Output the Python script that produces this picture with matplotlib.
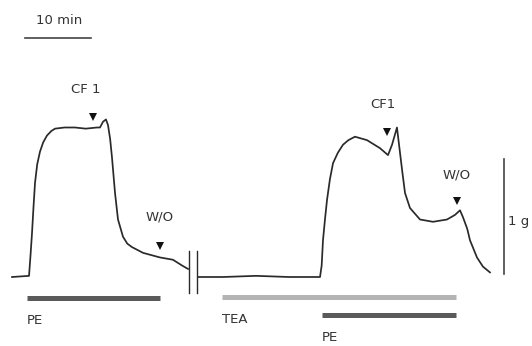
import matplotlib
matplotlib.use('Agg')
import matplotlib.pyplot as plt
from matplotlib import font_manager

# trace before the break (time in min, tension in g)
trace1_t = [-1.97, 0.61, 0.85, 1.06, 1.30, 1.52, 1.85, 2.27, 2.75, 3.33, 4.0, 4.55, 6.0,
            7.58, 9.2, 10.91, 11.36, 11.82, 12.27, 12.58, 12.9, 13.18, 13.64, 14.09, 14.85,
            15.5, 16.21, 17.88, 20.45, 22.42, 23.79, 24.70]
trace1_g = [0.0, 0.01, 0.2, 0.38, 0.62, 0.82, 0.98, 1.09, 1.17, 1.23, 1.27, 1.29, 1.30,
            1.30, 1.29, 1.30, 1.30, 1.35, 1.37, 1.32, 1.2, 1.04, 0.73, 0.50, 0.35,
            0.29, 0.26, 0.21, 0.17, 0.15, 0.10, 0.07]

# trace after the break
trace2_t = [26.21, 30.0, 35.0, 40.0, 44.70, 44.95, 45.15, 45.45, 45.76, 46.2, 46.67, 47.4,
            48.18, 49.0, 50.0, 51.82, 53.79, 55.0, 55.61, 56.36, 56.82, 57.2, 57.58,
            58.33, 59.85, 61.82, 63.94, 65.15, 65.91, 66.36, 67.0, 67.42, 68.48, 69.39, 70.45]
trace2_g = [0.0, 0.0, 0.01, 0.0, 0.0, 0.1, 0.32, 0.5, 0.67, 0.85, 0.99, 1.08,
            1.15, 1.19, 1.22, 1.19, 1.12, 1.06, 1.15, 1.30, 1.08, 0.9, 0.73,
            0.60, 0.50, 0.48, 0.50, 0.54, 0.58, 0.52, 0.42, 0.32, 0.17, 0.09, 0.04]

# drug application events (label, start, end)
bar_labels = ['PE', 'TEA', 'PE']
bar_start = [0.3, 29.85, 45.0]
bar_end = [20.45, 65.3, 65.3]

# arrow markers (label, time, tension of arrow)
mark_labels = ['CF 1', 'W/O', 'CF1', 'W/O']
mark_t = [10.3, 20.45, 54.85, 65.45]
mark_g = [1.39, 0.27, 1.26, 0.66]

TRACE_COLOR = '#2a2a2a'
names = {f.name for f in font_manager.fontManager.ttflist}
if 'Liberation Sans Narrow' in names:
    FONT = dict(family='Liberation Sans Narrow', fontsize=11, color='#333333')
else:
    FONT = dict(family='DejaVu Sans', fontsize=9.5, color='#333333')

fig = plt.figure(figsize=(5.32, 3.46), dpi=100)
ax = fig.add_axes([0, 0, 1, 1])
ax.set_xlim(-25 / 6.6, 507 / 6.6)
ax.set_ylim(-69 / 115, 277 / 115)
ax.axis('off')

ax.plot(trace1_t, trace1_g, color=TRACE_COLOR, lw=1.25, solid_joinstyle='round')
ax.plot(trace2_t, trace2_g, color=TRACE_COLOR, lw=1.25, solid_joinstyle='round')

# break marks
for tb in [24.85, 26.06]:
    ax.plot([tb, tb], [-0.14, 0.23], color=TRACE_COLOR, lw=1.0)

# arrows + labels
label_off = [0.24, 0.25, 0.24, 0.23]
for lab, t, g, off in zip(mark_labels, mark_t, mark_g, label_off):
    ax.plot(t, g, marker='v', color='#111111', ms=5.5, mew=0)
    ax.text(t - (1.1 if lab == 'CF 1' else 0.7 if lab == 'CF1' else 0), g + off, lab,
            ha='center', va='center', **FONT)

# drug bars
bar_y = [-0.18, -0.17, -0.33]
bar_col = ['#5a5a5a', '#b4b4b4', '#5a5a5a']
text_y = [-0.38, -0.37, -0.53]
for lab, s, e, y, c, ty in zip(bar_labels, bar_start, bar_end, bar_y, bar_col, text_y):
    ax.plot([s, e], [y, y], color=c, lw=3.6, solid_capstyle='butt')
    ax.text(s, ty, lab, ha='left', va='center', **FONT)

# scale bars
ax.plot([0, 10], [2.08, 2.08], color='#444444', lw=1.2)
ax.text(5.1, 2.23, '10 min', ha='center', va='center', **FONT)
ax.plot([72.6, 72.6], [0.03, 1.03], color='#444444', lw=1.2)
ax.text(73.2, 0.48, '1 g', ha='left', va='center', **FONT)

fig.savefig('out.png', dpi=100)
